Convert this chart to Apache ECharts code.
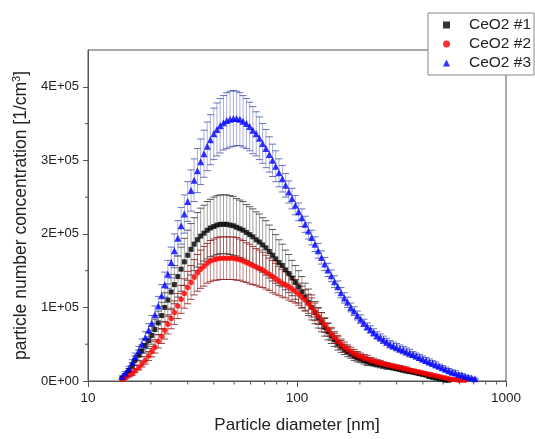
<!DOCTYPE html>
<html><head><meta charset="utf-8">
<script src="https://cdn.jsdelivr.net/npm/echarts@6/dist/echarts.min.js"></script>
<style>html,body{margin:0;padding:0;background:#fff}#c{width:535px;height:439px}</style>
</head><body><div id="c"></div>
<script>
// Particle diameters [nm]
const diameters=[14.6,15.1,15.7,16.3,16.8,17.5,18.1,18.8,19.5,20.2,
20.9,21.7,22.5,23.3,24.1,25.0,25.9,26.9,27.9,28.9,
30.0,31.1,32.2,33.4,34.6,35.9,37.2,38.5,40.0,41.4,
42.9,44.5,46.1,47.8,49.6,51.4,53.3,55.2,57.3,59.4,
61.5,63.8,66.1,68.5,71.0,73.7,76.4,79.1,82.0,85.1,
88.2,91.4,94.7,98.2,101.8,105.5,109.4,113.4,117.6,121.9,
126.3,131.0,135.8,140.7,145.9,151.2,156.8,162.5,168.5,174.7,
181.1,187.7,194.6,201.7,209.1,216.7,224.7,232.9,241.4,250.3,
259.5,269.0,278.8,289.0,299.6,310.6,322.0,333.8,346.0,358.7,
371.8,385.4,399.5,414.2,429.4,445.1,461.4,478.3,495.8,514.0,
532.8,552.3,572.5,593.5,615.3,637.8,661.2,685.4,710.5];

// Concentrations in units of 1E+03 1/cm3
const ceo2_1=[4,8,14,21,28,35,41,48,55,62,
70,79,89,100,110,121,131,142,152,162,
171,179,186,192,197,201,205,208,210,212,
213,213,213,212,211,209,207,205,202,199,
196,192,189,185,181,176,171,166,161,157,
151,146,140,134,128,121,114,107,100,93,
86,80,73,67,61,56,51,47,43,40,
37,34,32,30,28,26,25,24,23,22,
21,20,19,18,17,16,15,14,13,12,
11,10,9,8,6,5,4,3,2,1,
1,null,null,null,null,null,null,null,null];
const ceo2_1_err=[1,2,3,4,6,7,8,10,11,12,
14,16,18,20,22,24,26,28,30,32,
34,35,36,37,38,38,39,39,40,40,
40,40,40,40,40,39,39,39,38,38,
38,38,38,37,37,36,35,33,31,29,
27,26,24,23,22,21,19,18,17,15,
14,13,12,11,10,9,9,8,7,7,
6,6,6,5,5,5,4,4,4,4,
4,4,3,3,3,3,3,3,3,2,
2,2,2,2,2,1,1,1,1,1,
1,null,null,null,null,null,null,null,null];

const ceo2_2=[2,4,7,10,14,18,23,28,34,40,
46,54,61,69,77,85,93,102,111,119,
127,134,141,147,152,156,160,163,165,166,
167,167,167,167,167,166,165,163,161,159,
157,155,153,151,148,145,142,139,136,133,
131,128,125,122,118,114,110,105,100,94,
88,82,76,70,64,59,54,50,46,43,
40,37,35,33,31,30,28,27,25,24,
23,22,21,20,19,18,17,16,15,14,
13,12,11,10,9,8,7,6,5,4,
3,2,2,1,1,1,null,null,null];
const ceo2_2_err=[0,1,1,2,2,3,4,5,6,7,
8,9,10,12,13,14,16,17,19,20,
22,23,24,25,26,27,27,28,28,29,
29,29,29,29,29,29,28,28,27,27,
26,25,25,24,23,22,22,21,20,19,
18,18,17,16,15,15,14,13,13,12,
11,11,10,9,9,8,8,7,7,6,
6,6,5,5,5,5,4,4,4,4,
3,3,3,3,3,3,3,3,2,2,
2,2,2,2,2,1,1,1,1,1,
1,1,1,1,1,1,null,null,null];

const ceo2_3=[6,11,17,25,33,41,50,59,69,79,
90,102,116,131,145,161,177,194,211,227,
244,259,273,286,298,309,319,328,336,342,
347,351,354,356,357,357,356,353,350,346,
341,336,330,323,316,308,300,292,283,275,
266,257,248,239,230,222,213,204,195,186,
177,168,159,151,143,135,128,120,113,107,
100,95,89,84,79,74,70,66,62,59,
56,53,50,48,46,44,42,40,38,36,
34,32,30,28,26,24,22,20,18,16,
14,12,11,9,8,6,5,4,3];
const ceo2_3_err=[1,2,3,4,5,6,7,8,9,10,
12,13,15,17,19,21,23,24,25,26,
27,28,29,30,31,32,33,34,35,36,
37,37,38,38,38,37,36,35,34,33,
32,30,29,27,26,24,22,21,19,18,
16,15,14,13,12,12,11,11,10,10,
10,9,9,9,8,8,8,7,7,7,
6,6,6,6,5,5,5,5,5,5,
5,5,5,5,5,5,5,5,5,4,
4,4,4,4,4,4,4,3,3,3,
3,3,3,2,2,2,2,1,1];

const seriesNames=['CeO2 #1','CeO2 #2','CeO2 #3'];
const yTickValues=[0,100000,200000,300000,400000];
const yMinorTicks=[50000,150000,250000,350000];
const xMinorTicks=[20,30,40,50,60,70,80,90,200,300,400,500,600,700,800,900];

const FONT='Liberation Sans, Arial, sans-serif';
const UNIT=1000;

function pts(v){return diameters.map((d,i)=>v[i]==null?null:[d,v[i]*UNIT]).filter(Boolean);}
function errs(v,e){return diameters.map((d,i)=>v[i]==null?null:[d,(v[i]-e[i])*UNIT,(v[i]+e[i])*UNIT]).filter(Boolean);}

function errRender(lineColor,capColor){
  return function(params,api){
    const x=api.value(0),lo=api.value(1),hi=api.value(2);
    const p1=api.coord([x,lo]),p2=api.coord([x,hi]);
    const w=3.5;
    return {type:'group',children:[
      {type:'line',shape:{x1:p1[0],y1:p1[1],x2:p2[0],y2:p2[1]},style:{stroke:lineColor,lineWidth:1}},
      {type:'line',shape:{x1:p1[0]-w,y1:p1[1],x2:p1[0]+w,y2:p1[1]},style:{stroke:capColor,lineWidth:1}},
      {type:'line',shape:{x1:p2[0]-w,y1:p2[1],x2:p2[0]+w,y2:p2[1]},style:{stroke:capColor,lineWidth:1}}
    ]};
  };
}

const chart=echarts.init(document.getElementById('c'),null,{renderer:'canvas'});
chart.setOption({
  animation:false,
  backgroundColor:'#fff',
  textStyle:{fontFamily:FONT},
  grid:{left:88,right:29,top:50,bottom:52,show:true,borderColor:'#555',borderWidth:1,backgroundColor:'transparent'},
  legend:{
    orient:'vertical',left:428,top:13,
    padding:[4,3,4,15],itemGap:3,itemWidth:7,itemHeight:7,
    backgroundColor:'#fff',borderColor:'#888',borderWidth:1,
    textStyle:{fontSize:15.5,fontFamily:FONT,color:'#222',padding:[0,0,0,14]},
    data:seriesNames
  },
  xAxis:{
    type:'log',logBase:10,min:10,max:1000,
    name:'Particle diameter [nm]',nameLocation:'middle',nameGap:36,
    nameTextStyle:{fontSize:17,color:'#222',fontFamily:FONT},
    axisLine:{lineStyle:{color:'#555'}},
    axisTick:{show:true,length:6,lineStyle:{color:'#555'}},
    axisLabel:{fontSize:13.5,color:'#222',margin:10,fontFamily:FONT,formatter:v=>String(Math.round(v))},
    splitLine:{show:false},minorTick:{show:false},minorSplitLine:{show:false}
  },
  yAxis:{
    type:'value',min:0,max:450000,interval:100000,
    name:'particle number concentration [1/cm{sup|3}]',nameLocation:'middle',nameGap:49,
    nameTextStyle:{fontSize:17.5,color:'#222',fontFamily:FONT,rich:{sup:{fontSize:11,color:'#222',padding:[0,0,9,0],fontFamily:FONT}}},
    axisLine:{show:true,lineStyle:{color:'#555'}},
    axisTick:{show:true,length:5,lineStyle:{color:'#555'},customValues:yTickValues},
    axisLabel:{fontSize:13,color:'#222',margin:9,fontFamily:FONT,customValues:yTickValues,
      formatter:v=>v===0?'0E+00':(v/100000)+'E+05'},
    splitLine:{show:false}
  },
  series:[
    {type:'custom',name:'xminor',silent:true,clip:false,data:xMinorTicks.map(v=>[v,0]),encode:{x:0,y:1},
      renderItem:(p,api)=>{const c=api.coord([api.value(0),0]);return {type:'line',shape:{x1:c[0],y1:c[1],x2:c[0],y2:c[1]+3.5},style:{stroke:'#555',lineWidth:1}};}},
    {type:'custom',name:'yminor',silent:true,clip:false,data:yMinorTicks.map(v=>[10,v]),encode:{x:0,y:1},
      renderItem:(p,api)=>{const c=api.coord([10,api.value(1)]);return {type:'line',shape:{x1:c[0]-3,y1:c[1],x2:c[0],y2:c[1]},style:{stroke:'#555',lineWidth:1}};}},
    {type:'custom',name:'err1',silent:true,data:errs(ceo2_1,ceo2_1_err),encode:{x:0,y:[1,2]},renderItem:errRender('rgba(90,90,90,0.55)','rgba(60,60,60,0.85)')},
    {type:'scatter',name:seriesNames[0],data:pts(ceo2_1),symbol:'rect',symbolSize:5,itemStyle:{color:'#000'}},
    {type:'custom',name:'err2',silent:true,data:errs(ceo2_2,ceo2_2_err),encode:{x:0,y:[1,2]},renderItem:errRender('rgba(150,40,40,0.55)','rgba(150,30,30,0.85)')},
    {type:'scatter',name:seriesNames[1],data:pts(ceo2_2),symbol:'circle',symbolSize:5.5,itemStyle:{color:'#ff0000'}},
    {type:'custom',name:'err3',silent:true,data:errs(ceo2_3,ceo2_3_err),encode:{x:0,y:[1,2]},renderItem:errRender('rgba(90,100,180,0.5)','rgba(80,90,175,0.85)')},
    {type:'scatter',name:seriesNames[2],data:pts(ceo2_3),symbol:'triangle',symbolSize:7,itemStyle:{color:'#0000ff'}}
  ]
});
</script></body></html>
